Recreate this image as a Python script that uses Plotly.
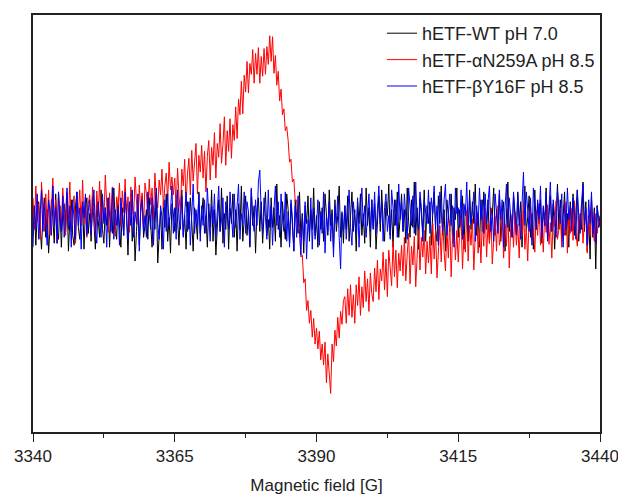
import plotly.graph_objects as go

field_start = 3340.0
field_step = 0.25

wt_ph70 = [
    -14, 12, -26, 6, 18, -8, -30, 4, 22, -18, 10, -34, -6, 20, 2, -24, 26, -10, -20, 14,
    -28, 8, 16, -12, 24, -32, 0, 20, -16, -26, 14, 28, -8, -20, 6, 18, -30, 10, 22, -14,
    6, -22, 24, -4, -30, 16, 2, -18, 30, -10, -24, 12, -6, 22, -28, 8, -14, 32, -2, -20,
    16, -8, -28, 12, -16, 26, 4, -36, 10, 20, -22, 6, -42, -12, 14, -26, 8, 24, -18, -6,
    10, -20, 22, -4, -28, 14, -10, 28, -44, -16, 8, -30, 18, -8, 26, -22, 2, -34, 16, 6,
    -12, 24, -6, -26, 10, 30, -16, 4, -30, 18, -10, 22, -2, -32, 12, 0, -20, 28, -14, 8,
    22, -14, 4, -28, 16, -8, 30, -22, 10, -36, 2, 20, -12, 32, -24, 6, -10, 24, -30, 12,
    -4, 26, -18, 10, -32, 16, -10, 34, -22, 4, 24, -16, 8, -28, 30, -6, 14, -34, 10, 22,
    -12, 18, -24, 6, 28, -16, 0, -30, 22, -8, 12, -22, 36, -10, 4, -28, 18, -4, -20, 26,
    10, -24, 16, -6, -32, 20, 4, -14, 28, -18, 6, -34, 14, -4, 24, -22, 10, -10, 32, -16,
    4, -28, 18, -10, 12, -22, 26, 0, -16, 30, -6, 10, -30, 20, -12, 4, 34, -18, 6, -24,
    14, -10, 24, -22, 2, 28, -12, 10, -32, 18, -4, 26, -16, 6, -24, 32, -6, 12, -28, 20,
    -10, 16, -30, 6, 24, -12, 30, -4, -22, 18, 4, 36, -16, 10, -28, 20, -6, 28, -18, 2,
    26, -12, 10, -24, 32, -2, -18, 20, -8, 38, -16, 12, -30, 22, 0, -12, 30, -22, 14, -4,
    18, -26, 6, 28, -10, -22, 24, -4, 34, -16, 10, -32, 20, 4, -12, 26, -24, 12, 0, 32,
    -18, 10, -6, 24, -30, 14, 4, -22, 30, -10, 18, -4, 36, -16, 6, -28, 20, -12, 28, 2,
    -10, 20, -24, 12, 4, 32, -16, 10, -6, 26, -22, 2, 18, -32, 14, 38, -12, 6, -18, 24,
    4, -16, 28, -6, 18, -28, 10, 34, -12, 2, 24, -18, 6, -30, 30, -10, 16, -4, 20, -24,
    12, -6, 32, -18, 4, 24, -12, 16, -30, 10, 36, -10, 20, -22, 2, 28, -16, 6, -28, 18,
    -4, 26, -16, 10, 30, -22, 6, -10, 38, -12, 18, -32, 4, -40, 22, -18, 12, -50, 14, -8,
    4,
]

aN259A_ph85 = [
    22, -10, 34, -2, 16, -20, 38, 6, -12, 26, -6, 30, -16, 12, 42, -4, 20, -24, 28, 8,
    -10, 32, 12, -16, 28, 0, 38, -12, 16, 24, -24, 18, 6, 30, -6, 40, -4, 22, -18, 16,
    25, -11, 33, 9, -15, 29, 3, 39, -7, 21, -1, 45, 13, -13, 27, -5, 33, 7, -17, 23,
    13, 37, -7, 29, 7, 41, -1, 23, -13, 33, 17, 3, 43, 19, -5, 35, 9, 27, -9, 37,
    26, 4, 41, 15, 32, 0, 47, 21, 12, 40, 25, 51, 12, 34, 47, 19, 58, 30, 43, 25,
    42, 11, 52, 23, 8, 51, 34, 61, 14, 47, 62, 25, 70, 39, 56, 77, 26, 65, 48, 75,
    42, 69, 28, 64, 80, 40, 73, 55, 88, 42, 77, 63, 97, 57, 76, 104, 55, 90, 69, 102,
    62, 96, 80, 114, 82, 122, 106, 140, 107, 146, 129, 160, 128, 158, 147, 172, 138, 168, 147, 174,
    138, 165, 145, 173, 147, 175, 157, 186, 160, 185, 148, 166, 136, 150, 120, 132, 106, 112, 90, 94,
    80, 58, 61, 38, 41, 18, 20, -10, -11, -38, -36, -64, -60, -92, -82, -105, -92, -119, -100, -126,
    -110, -131, -113, -142, -126, -147, -124, -165, -136, -156, -176, -126, -144, -112, -128, -99, -120, -93, -106, -82,
    -78, -105, -70, -97, -66, -99, -76, -105, -66, -87, -58, -97, -68, -89, -52, -83, -60, -93, -54, -75,
    -83, -49, -73, -41, -81, -50, -62, -33, -71, -40, -78, -31, -48, -67, -22, -58, -31, -69, -34, -52,
    -26, -57, -18, -62, -35, -14, -65, -27, -46, -17, -68, -28, -7, -51, -18, -38, -11, -55, -22, -44,
    -17, -55, -4, -40, -11, -59, -24, -6, -43, 1, -32, -52, -9, -39, -1, -58, -16, -4, -41, -11,
    -43, -12, 2, -50, -15, -33, 9, -42, -6, -26, 1, -51, -15, 8, -34, -10, -44, 1, -27, 11,
    -38, -4, -24, 11, -45, -13, 3, -32, 14, -26, -18, 8, -39, -5, -27, 11, -49, -8, 4, -28,
    8, -26, -5, -39, 5, -17, 16, -30, -8, -42, 2, 13, -21, -9, -33, 9, -16, 16, -26, 0,
    -33, 7, -13, 15, -25, -3, -39, 3, -7, 19, -20, -10, 12, -28, 0, -16, 18, -34, 6, -14,
    11, -21, 19, -13, -27, 3, -9, 15, -24, -2, 10, -34, 2, -16, 14, -10, -22, 6, -14, 0,
    -5,
]

bY16F_ph85 = [
    -28, 14, -10, 26, -20, 6, 30, -12, 18, -4, -26, 20, 8, -16, 34, -6, 12, -24, 28, 2,
    -12, 24, -18, 6, 32, -10, 14, -28, 20, 0, -20, 28, -6, 12, -30, 18, 2, 26, -16, 8,
    20, -14, 6, 30, -10, -24, 18, 2, -18, 26, -4, 12, -28, 22, 0, -12, 32, -20, 10, -6,
    14, -26, 22, 0, -16, 28, 6, -20, 18, -6, 30, -18, 8, -4, 26, -32, 12, 20, -12, 4,
    -18, 28, 6, -10, 22, -26, 12, 32, -4, -20, 14, 2, -30, 20, -12, 26, -6, 8, 34, -14,
    12, -20, 30, 0, -10, 24, -18, 6, 28, -12, 18, -26, 4, 36, -14, 10, -6, 26, -22, 14,
    -6, 20, -14, 32, 4, -22, 14, -4, 26, -18, 8, 34, -12, 0, 22, -28, 18, 6, -10, 28,
    4, -18, 26, -8, 14, 36, -20, 6, -4, 28, -14, 18, 8, -26, 32, 0, -12, 20, -6, 38,
    50, 6, -14, 22, 2, -20, 30, -8, 14, -26, 10, 34, -6, 18, -18, 26, 0, -12, 28, -22,
    8, -28, 20, 2, -32, 14, -18, 24, -8, -36, 6, -22, 18, -40, 0, -14, 22, -30, 12, -20,
    -6, 20, -26, 8, -14, 28, -34, 4, -12, 18, -22, 6, -38, 14, -4, 24, -18, -50, 8, -12,
    14, -20, 6, 30, -8, -26, 18, 0, -14, 22, -28, 8, 32, -6, 14, -18, 4, 26, -12, 20,
    -8, 28, -14, 6, 34, -4, 18, -22, 12, 26, -12, 4, -20, 30, 8, -6, 20, -18, 36, 0,
    18, -12, 26, 4, -20, 32, 8, -6, 24, -14, 38, 0, -10, 28, 12, -22, 20, 6, -4, 30,
    -14, 22, 6, 34, -8, 14, -26, 28, 4, -12, 20, 36, -16, 8, 26, -6, 14, -28, 32, 6,
    12, -8, 30, -20, 16, 4, 38, -12, 22, -4, 8, 28, -22, 14, -6, 32, 0, 20, -14, 26,
    -4, 18, 34, -12, 6, -22, 26, 8, -14, 30, 0, 20, -28, 12, 36, -8, 22, 4, -18, 28,
    8, -14, 26, 4, -20, 16, 48, -6, 28, 10, -12, 22, -26, 32, 6, -10, 20, 0, 34, -18,
    14, -6, 28, -22, 12, 38, -12, 20, 4, -18, 30, 8, -4, 26, -28, 16, -10, 32, 0, 14,
    -12, 22, 6, -20, 30, 4, -14, 18, 36, -6, 12, -26, 20, -4, 28, -14, 8, -24, 14, 2,
    -8,
]

series_names = ["hETF-WT pH 7.0", "hETF-\u03b1N259A pH 8.5", "hETF-\u03b2Y16F pH 8.5"]
series_colors = ["#000000", "#ff0000", "#0000ff"]
x_ticks = [3340, 3365, 3390, 3415, 3440]

field = [field_start + field_step * i for i in range(len(wt_ph70))]

fig = go.Figure()
for name, color, vals in zip(series_names, series_colors,
                             [wt_ph70, aN259A_ph85, bY16F_ph85]):
    fig.add_trace(go.Scatter(x=field, y=vals, mode="lines", name=name,
                             line=dict(color=color, width=1)))

font_family = "Liberation Sans, Arial, sans-serif"
fig.update_layout(
    width=618, height=496,
    margin=dict(l=33, r=18, t=15, b=64, autoexpand=False),
    paper_bgcolor="white", plot_bgcolor="white",
    font=dict(family=font_family, size=17, color="#222"),
    showlegend=True,
    legend=dict(x=1, xanchor="right", y=1, yanchor="top",
                bgcolor="rgba(0,0,0,0)", borderwidth=0,
                font=dict(size=18, color="#222"),
                tracegroupgap=0, itemwidth=30),
    xaxis=dict(range=[3340, 3440], tickvals=x_ticks,
               ticktext=[str(t) for t in x_ticks],
               ticks="outside", ticklen=8, tickwidth=1.3, tickcolor="#222",
               minor=dict(dtick=12.5, tick0=3340, ticks="outside", ticklen=4,
                          tickwidth=1.3, tickcolor="#222", showgrid=False),
               showline=True, linecolor="#222", linewidth=1.5, mirror=True,
               showgrid=False, zeroline=False, automargin=False,
               ticklabeloverflow="allow",
               tickfont=dict(size=17, color="#222"),
               title=dict(text="Magnetic field [G]", standoff=14,
                          font=dict(size=17, color="#222"))),
    yaxis=dict(range=[-215, 207], showticklabels=False, ticks="",
               showline=True, linecolor="#222", linewidth=1.5, mirror=True,
               showgrid=False, zeroline=False, automargin=False),
)

fig.write_html("out.html")
